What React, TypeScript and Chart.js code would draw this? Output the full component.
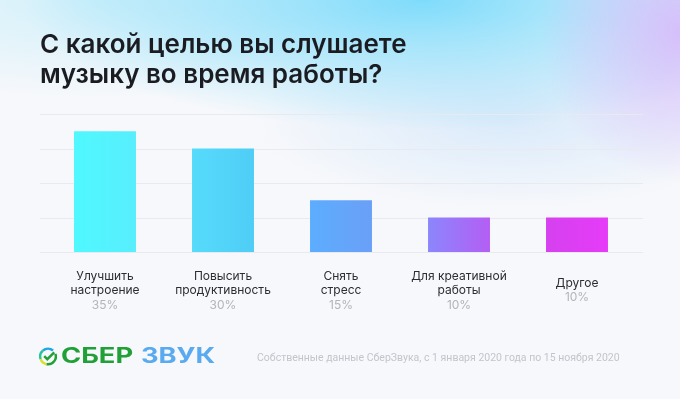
import React, { useEffect, useRef } from "react";
import { Chart, registerables } from "chart.js";

Chart.register(...registerables);

const titleLines = ["С какой целью вы слушаете", "музыку во время работы?"];
const categories = [
  ["Улучшить", "настроение"],
  ["Повысить", "продуктивность"],
  ["Снять", "стресс"],
  ["Для креативной", "работы"],
  ["Другое"],
];
const values = [35, 30, 15, 10, 10];
const percentLabels = ["35%", "30%", "15%", "10%", "10%"];
const barColorsLeft = ["#4ff8ff", "#56dbfb", "#5cadfe", "#8b86fc", "#d541ef"];
const barColorsRight = ["#58eefd", "#4fcdf6", "#6aa0f7", "#b45ef4", "#e63bf8"];
const yMax = 40;
const yStep = 10;
const sourceNote = "Собственные данные СберЗвука, с 1 января 2020 года по 15 ноября 2020";

const gridPlugin = {
  id: "extGrid",
  beforeDatasetsDraw(chart: any) {
    const { ctx, chartArea, scales } = chart;
    const y = scales.y;
    ctx.save();
    ctx.strokeStyle = "#e8eaef";
    ctx.lineWidth = 1;
    y.ticks.forEach((t: any) => {
      const py = Math.round(y.getPixelForValue(t.value)) + 0.5;
      ctx.beginPath();
      ctx.moveTo(chartArea.left - 6, py);
      ctx.lineTo(chartArea.right + 7, py);
      ctx.stroke();
    });
    ctx.restore();
  },
};

const labelPlugin = {
  id: "catLabels",
  afterDraw(chart: any) {
    const { ctx, chartArea, scales } = chart;
    const x = scales.x;
    const lh = 14.5;
    const centerY = chartArea.bottom + 38.5;
    ctx.save();
    ctx.textAlign = "center";
    ctx.textBaseline = "middle";
    ctx.font = "400 12px Inter";
    categories.forEach((lines, i) => {
      const px = x.getPixelForValue(i);
      const all = [...lines, percentLabels[i]];
      const y0 = centerY - ((all.length - 1) * lh) / 2;
      all.forEach((txt, j) => {
        ctx.fillStyle = j === all.length - 1 ? "#b3b4ba" : "#2c2d33";
        ctx.fillText(txt, px, y0 + j * lh);
      });
    });
    ctx.restore();
  },
};

function barGradient(c: any) {
  const chart = c.chart;
  const i = c.dataIndex;
  const area = chart.chartArea;
  const xs = chart.scales && chart.scales.x;
  if (!area || !xs) return barColorsLeft[i];
  const cx = xs.getPixelForValue(i);
  const w = ((area.right - area.left) / categories.length) * 0.525;
  const g = chart.ctx.createLinearGradient(cx - w / 2, 0, cx + w / 2, 0);
  g.addColorStop(0, barColorsLeft[i]);
  g.addColorStop(1, barColorsRight[i]);
  return g;
}

export default function App() {
  const ref = useRef<HTMLCanvasElement | null>(null);
  useEffect(() => {
    if (!ref.current) return;
    const chart = new Chart(ref.current, {
      type: "bar",
      data: {
        labels: categories.map((c) => c.join(" ")),
        datasets: [
          {
            data: values,
            backgroundColor: barGradient as any,
            borderWidth: 0,
            barPercentage: 0.525,
            categoryPercentage: 1,
          },
        ],
      },
      options: {
        animation: false,
        responsive: false,
        devicePixelRatio: 1,
        layout: { padding: { left: 40, right: 44, top: 0, bottom: 147 } },
        plugins: {
          legend: { display: false },
          tooltip: { enabled: false },
          title: {
            display: true,
            text: titleLines,
            align: "start",
            color: "#1b1c21",
            font: { family: "Inter", size: 26, weight: "600", lineHeight: 30 / 26 },
            padding: { top: 30, bottom: 24 },
          },
        },
        scales: {
          x: {
            grid: { display: false },
            border: { display: false },
            ticks: { display: false },
            afterFit: (s: any) => {
              s.height = 0;
            },
          },
          y: {
            min: 0,
            max: yMax,
            ticks: { display: false, stepSize: yStep },
            grid: { display: false, drawTicks: false },
            border: { display: false },
            afterFit: (s: any) => {
              s.width = 6;
            },
          },
        },
      } as any,
      plugins: [gridPlugin, labelPlugin],
    });
    return () => chart.destroy();
  }, []);

  return (
    <div
      style={{
        position: "absolute",
        left: 0,
        top: 0,
        width: 680,
        height: 399,
        overflow: "hidden",
        background:
          "radial-gradient(ellipse 140px 150px at 100% 8%, rgba(214,186,250,0.9), rgba(214,186,250,0) 100%)," +
          "radial-gradient(ellipse 400px 130px at 62% 0%, rgba(120,218,251,0.95), rgba(120,218,251,0) 100%)," +
          "radial-gradient(ellipse 260px 90px at 75% 30%, rgba(205,228,250,0.7), rgba(205,228,250,0) 100%)," +
          "radial-gradient(ellipse 330px 100px at 15% 0%, rgba(200,238,250,0.8), rgba(200,238,250,0) 100%)," +
          "#f7f8fb",
      }}
    >
      <canvas ref={ref} width={680} height={399} style={{ position: "absolute", left: 0, top: 0, display: "block" }} />
      <svg width={18} height={19} viewBox="0 0 16 17" style={{ position: "absolute", left: 39, top: 347 }}>
        <g fill="none" strokeWidth={2.2} strokeLinecap="butt">
          <path d="M 12.5 3.14 A 7 7 0 0 0 3.5 3.14" stroke="#1ea7e6" />
          <path d="M 3.5 3.14 A 7 7 0 0 0 1.42 10.89" stroke="#27c39c" />
          <path d="M 1.42 10.89 A 7 7 0 0 0 6.78 15.39" stroke="#d8e22b" />
          <path d="M 6.78 15.39 A 7 7 0 0 0 14.58 6.11" stroke="#21a038" />
          <path d="M 4.6 8.2 L 7.4 10.9 L 13.6 4.9" stroke="#21a038" />
        </g>
      </svg>
      <div
        style={{
          position: "absolute",
          left: 61,
          top: 344,
          height: 24,
          lineHeight: "24px",
          fontFamily: "Inter",
          fontWeight: 700,
          fontSize: 21,
          whiteSpace: "nowrap",
          transform: "scaleX(1.3)",
          transformOrigin: "0 50%",
        }}
      >
        <span style={{ color: "#21a038" }}>СБЕР</span>
        <span style={{ color: "#5aaaf0", marginLeft: 6 }}>ЗВУК</span>
      </div>
      <div
        style={{
          position: "absolute",
          left: 257,
          top: 350,
          lineHeight: "16px",
          fontFamily: "Roboto",
          fontSize: 10.5,
          color: "#c2c5cc",
          whiteSpace: "nowrap",
        }}
      >
        {sourceNote}
      </div>
    </div>
  );
}
